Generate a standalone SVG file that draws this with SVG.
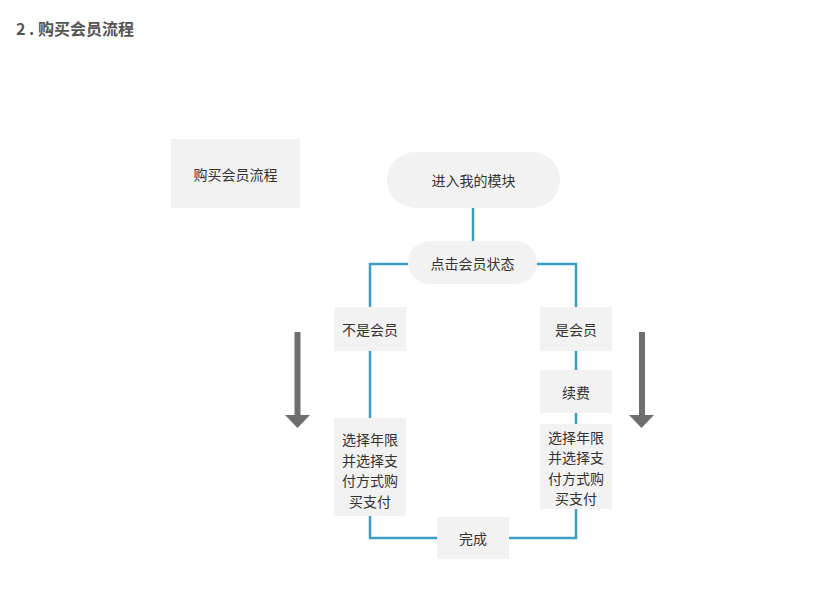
<svg xmlns="http://www.w3.org/2000/svg" width="822" height="600" viewBox="0 0 822 600">
<style>
.t{font-family:"Noto Sans CJK SC","Liberation Sans",sans-serif;font-size:14px;fill:#333;text-anchor:middle;dominant-baseline:central}
.box{fill:#f2f2f2}
.c{stroke:#3b9dc3;stroke-width:2.5;fill:none}
.arr{fill:#6e6e6e}
</style>
<rect width="822" height="600" fill="#fff"/>
<text x="16" y="28" font-family="'Noto Sans CJK SC','Liberation Sans',sans-serif" font-size="16" font-weight="bold" fill="#555" dominant-baseline="central">2 . 购买会员流程</text>
<g id="connectors">
<path class="c" d="M473 208V241"/>
<path class="c" d="M408 264H370V307"/>
<path class="c" d="M537 264H576V307"/>
<path class="c" d="M370 351V418"/>
<path class="c" d="M370 516V538H437"/>
<path class="c" d="M576 351V370"/>
<path class="c" d="M576 413V424"/>
<path class="c" d="M576 509V538H509"/>
</g>
<g id="title-box"><rect class="box" x="171" y="139" width="129" height="69"/><text class="t" x="235.5" y="173.5">购买会员流程</text></g>
<g id="enter"><rect class="box" x="387" y="152" width="173" height="56" rx="28"/><text class="t" x="473.5" y="180">进入我的模块</text></g>
<g id="click"><rect class="box" x="408" y="241" width="129" height="43" rx="21.5"/><text class="t" x="472.5" y="263">点击会员状态</text></g>
<g id="not-member"><rect class="box" x="334" y="307" width="72" height="44"/><text class="t" x="370" y="329">不是会员</text></g>
<g id="left-pay"><rect class="box" x="334" y="418" width="72" height="98"/>
<text class="t" x="370" y="439">选择年限</text><text class="t" x="370" y="459.5">并选择支</text><text class="t" x="370" y="480">付方式购</text><text class="t" x="370" y="500.5">买支付</text></g>
<g id="member"><rect class="box" x="540" y="307" width="72" height="44"/><text class="t" x="576" y="329">是会员</text></g>
<g id="renew"><rect class="box" x="540" y="370" width="72" height="43"/><text class="t" x="576" y="391.5">续费</text></g>
<g id="right-pay"><rect class="box" x="540" y="424" width="72" height="85"/>
<text class="t" x="576" y="436.5">选择年限</text><text class="t" x="576" y="457">并选择支</text><text class="t" x="576" y="477.5">付方式购</text><text class="t" x="576" y="498">买支付</text></g>
<g id="done"><rect class="box" x="437" y="517" width="72" height="42"/><text class="t" x="473" y="538">完成</text></g>
<g id="left-arrow"><rect class="arr" x="294.5" y="332" width="6" height="84"/><polygon class="arr" points="285,415 310,415 297.5,428"/></g>
<g id="right-arrow"><rect class="arr" x="639" y="332" width="6" height="84"/><polygon class="arr" points="629,415 654,415 641.5,428"/></g>
</svg>
